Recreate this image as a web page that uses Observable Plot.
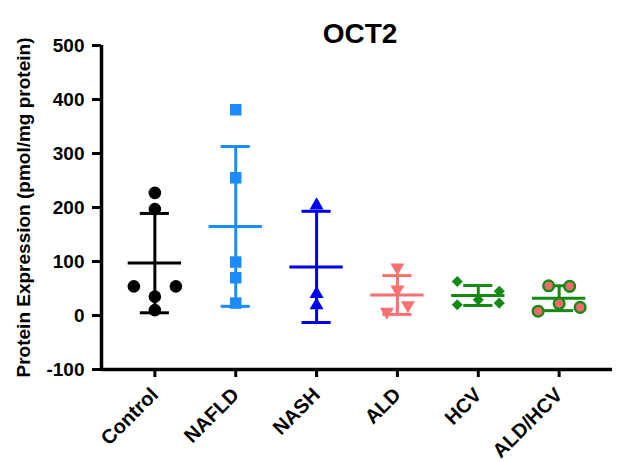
<!DOCTYPE html>
<html>
<head>
<meta charset="utf-8">
<script src="https://cdn.jsdelivr.net/npm/d3@7"></script>
<script src="https://cdn.jsdelivr.net/npm/@observablehq/plot@0.6"></script>
<style>
  html, body { margin: 0; padding: 0; background: #fff; }
  svg { display: block; }
</style>
</head>
<body>
<div id="chart"></div>
<script>
// ---- data ----
const title = "OCT2";
const yLabel = "Protein Expression (pmol/mg protein)";
const groups = ["Control", "NAFLD", "NASH", "ALD", "HCV", "ALD/HCV"];
const groupMean = [97, 165, 90, 38, 37, 32];
const groupSD = [92, 148, 103, 36, 18.5, 23];
const yTicks = [-100, 0, 100, 200, 300, 400, 500];

const pointGroup = [0,0,0,0,0,0, 1,1,1,1,1, 2,2,2, 3,3,3,3, 4,4,4,4,4, 5,5,5,5,5];
const pointValue = [227,197,54,54,35,10, 381,255,99,70,23, 204,40,19, 89,48,7,19, 63,20,29,45,23, 55,54,22,8,15];
const pointSlot  = [0,0,-2,2,0,0, 0,0,0,0,0, 0,0,0, 0,0,-1,1, -2,-2,0,2,2, -1,1,0,-2,2];

// ---- styles ----
const groupColor = ["#000000", "#1a8cff", "#0000f0", "#f87171", "#138a13", "#138a13"];
const groupFill  = ["#000000", "#1a8cff", "#0000f0", "#f87171", "#138a13", "#f96a6a"];
const groupSymbol = ["circle", "square", "triangle", "triangle", "diamond2", "circle"];
const groupR = [6.3, 6.5, 5.2, 5.2, 5, 5.3];
const groupRotate = [0, 0, 0, 180, 0, 0];
const slotUnit = 0.13;

const summary = groups.map((g, i) => ({
  i, mean: groupMean[i], lo: groupMean[i] - groupSD[i], hi: groupMean[i] + groupSD[i]
}));
const points = pointValue.map((v, k) => ({
  g: pointGroup[k], x: pointGroup[k] + pointSlot[k] * slotUnit, y: v
}));

const font = "Liberation Sans, Arial, Helvetica, sans-serif";
const lw = 3;

const marks = [
  // error bars
  Plot.ruleX(summary, {x: "i", y1: "lo", y2: "hi", stroke: d => groupColor[d.i], strokeWidth: lw}),
  Plot.ruleY(summary, {y: "hi", x1: d => d.i - 0.18, x2: d => d.i + 0.18, stroke: d => groupColor[d.i], strokeWidth: lw}),
  Plot.ruleY(summary, {y: "lo", x1: d => d.i - 0.18, x2: d => d.i + 0.18, stroke: d => groupColor[d.i], strokeWidth: lw}),
  Plot.ruleY(summary, {y: "mean", x1: d => d.i - 0.33, x2: d => d.i + 0.33, stroke: d => groupColor[d.i], strokeWidth: lw}),
];
// points, one dot mark per group so each keeps its symbol
groups.forEach((g, gi) => {
  const pts = points.filter(p => p.g === gi);
  marks.push(Plot.dot(pts, {
    x: "x", y: "y",
    symbol: () => groupSymbol[gi],
    r: groupR[gi],
    fill: groupFill[gi],
    stroke: gi === 5 ? groupColor[gi] : "none",
    strokeWidth: gi === 5 ? 2.5 : 0,
    rotate: groupRotate[gi]
  }));
});
marks.push(
  // axes
  Plot.axisY({ticks: yTicks, tickFormat: d => String(d), tickSize: 9, tickPadding: 8, fontSize: 19, fontWeight: "bold", strokeWidth: lw, label: null}),
  Plot.axisX({ticks: d3.range(groups.length), tickFormat: i => groups[i], tickRotate: -45, tickSize: 8, tickPadding: 14,
              fontSize: 20, fontWeight: "bold", strokeWidth: lw, label: null}),
  Plot.ruleX([-0.66], {strokeWidth: 3.5}),
  Plot.ruleY([-100], {strokeWidth: 3.5}),
  // texts
  Plot.text([title], {frameAnchor: "top", dy: -22, dx: 3, fontSize: 28, fontWeight: "bold", text: d => d}),
  Plot.text([yLabel], {frameAnchor: "left", textAnchor: "middle", rotate: -90, dx: -78, fontSize: 19, fontWeight: "bold", text: d => d})
);

const chart = Plot.plot({
  width: 619,
  height: 462,
  marginLeft: 101,
  marginRight: 7,
  marginTop: 45,
  marginBottom: 93,
  style: {fontFamily: font, color: "#000", background: "#fff", overflow: "visible"},
  x: {type: "linear", domain: [-0.66, 5.66], axis: null},
  y: {domain: [-100, 500], axis: null},
  symbol: {type: "identity"},
  marks
});
document.getElementById("chart").appendChild(chart);
</script>
</body>
</html>
